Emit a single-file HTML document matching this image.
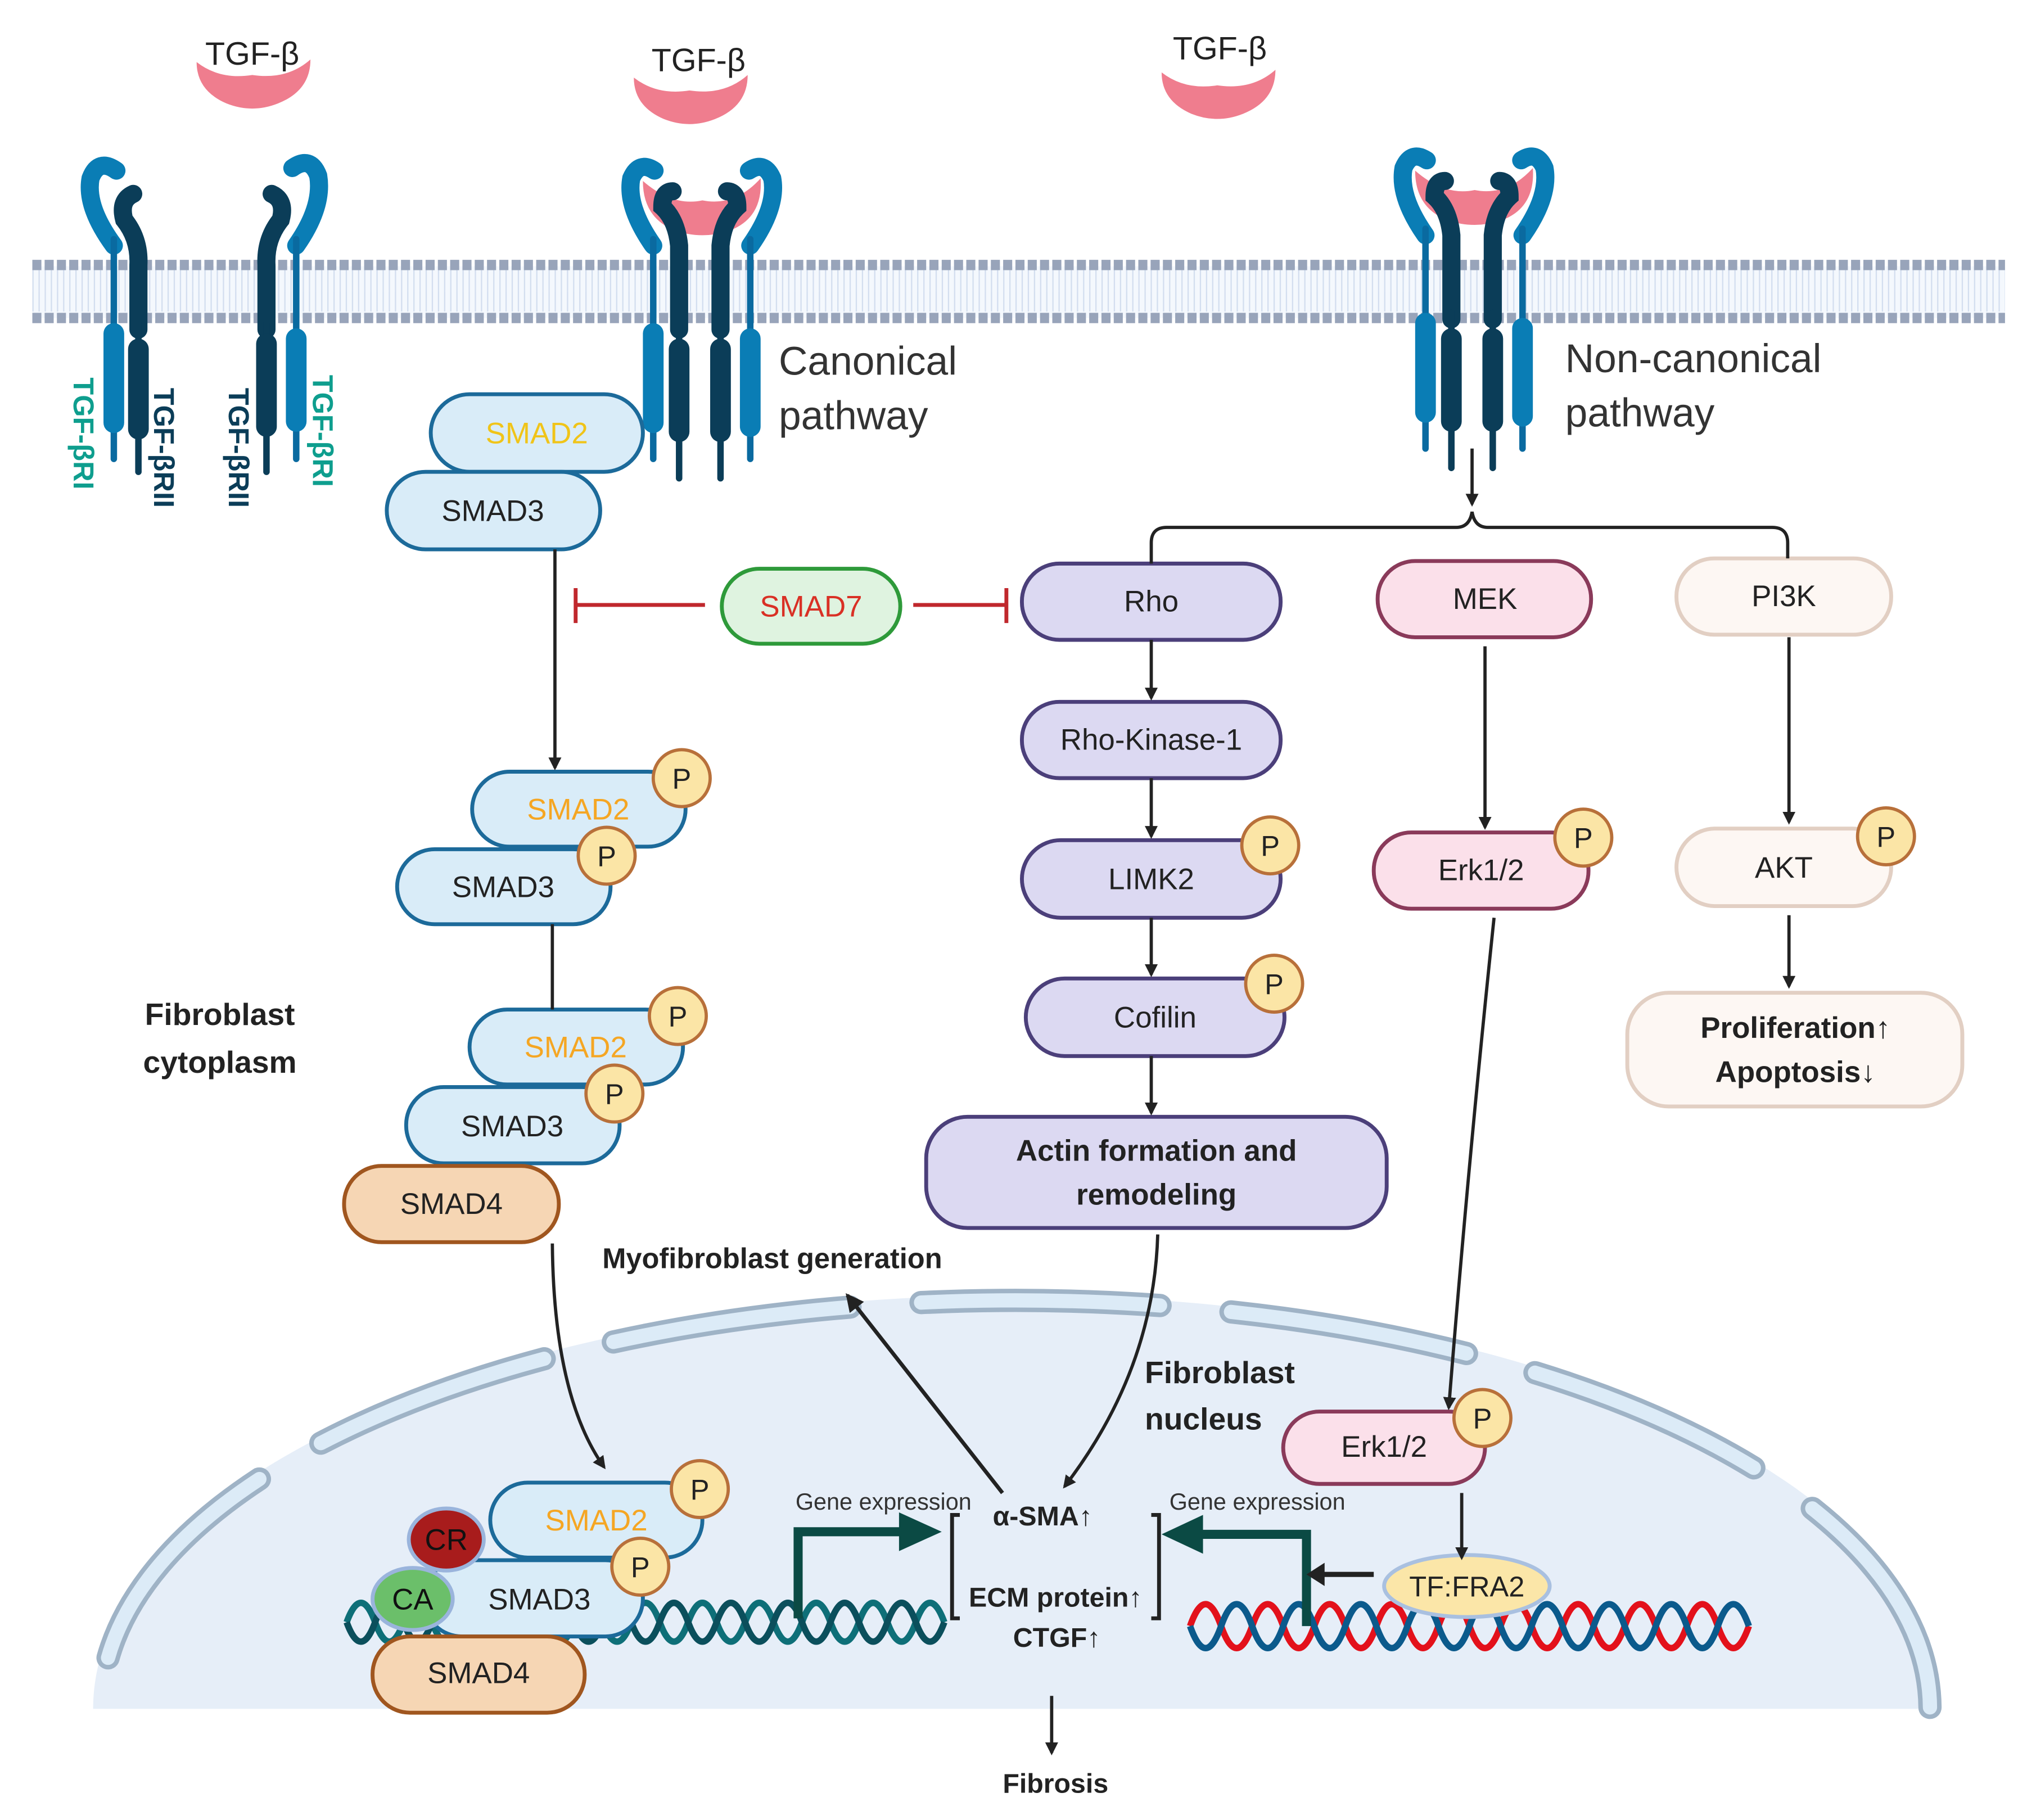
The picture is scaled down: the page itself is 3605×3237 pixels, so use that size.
<!DOCTYPE html>
<html><head><meta charset="utf-8"><style>
html,body{margin:0;padding:0;background:#fff;}
svg{display:block;}
text{font-family:"Liberation Sans",sans-serif;}
</style></head><body>
<svg width="3605" height="3237" viewBox="0 0 1567 1408" preserveAspectRatio="none" xmlns="http://www.w3.org/2000/svg">
<defs>
<marker id="ar" markerWidth="10" markerHeight="10" refX="8" refY="5" orient="auto" markerUnits="userSpaceOnUse"><path d="M0,0 L10,5 L0,10 z" fill="#222"/></marker>
<marker id="ar2" markerWidth="14" markerHeight="14" refX="12" refY="7" orient="auto" markerUnits="userSpaceOnUse"><path d="M0,0 L14,7 L0,14 z" fill="#222"/></marker>
</defs>

<g>
<rect x="25" y="206" width="1525" height="40" fill="#f4f8fd"/>
<path d="M25 217 L1550 217" stroke-dasharray="1 3.75" stroke-width="16" stroke="#d3deef"/>
<path d="M25 233 L1550 233" stroke-dasharray="1 3.75" stroke-width="16" stroke="#d3deef"/>
<line x1="25" y1="205" x2="1550" y2="205" stroke="#98a4ba" stroke-width="8" stroke-dasharray="7 2.5"/>
<line x1="25" y1="246" x2="1550" y2="246" stroke="#98a4ba" stroke-width="8" stroke-dasharray="7 2.5"/>
</g>

<path d="M72 1322 A713 320 0 0 1 1498 1322 Z" fill="#e6eef8"/>
<path d="M78 1322 A707 316 0 0 1 1492 1322" fill="none" stroke="#9fb3c6" stroke-width="18" stroke-dasharray="185 55" stroke-dashoffset="-40" stroke-linecap="round"/>
<path d="M78 1322 A707 316 0 0 1 1492 1322" fill="none" stroke="#dcebf7" stroke-width="11" stroke-dasharray="185 55" stroke-dashoffset="-40" stroke-linecap="round"/>

<g fill="#ef7d8e">
<path d="M152 48 Q170 62 195 58 Q222 62 240 46 Q240 70 215 80 Q195 88 175 80 Q152 70 152 48 Z"/>
<path d="M490 60 Q508 74 533 70 Q560 74 578 58 Q578 82 553 92 Q533 100 513 92 Q490 82 490 60 Z"/>
<path d="M898 56 Q916 70 941 66 Q968 70 986 54 Q986 78 961 88 Q941 96 921 88 Q898 78 898 56 Z"/>
</g>
<text x="195" y="50" font-size="25" text-anchor="middle" fill="#222">TGF-β</text>
<text x="540" y="55" font-size="25" text-anchor="middle" fill="#222">TGF-β</text>
<text x="943" y="46" font-size="25" text-anchor="middle" fill="#222">TGF-β</text>

<g stroke-linecap="round" fill="none">
<path d="M88 190 Q66 160 70 138 Q76 122 90 132" stroke="#0a7db5" stroke-width="14"/>
<line x1="88" y1="185" x2="88" y2="355" stroke="#0a6aa0" stroke-width="5"/>
<path d="M107 255 L107 205 Q108 185 96 170 Q92 155 103 150" stroke="#0b3d58" stroke-width="14"/>
<line x1="107" y1="250" x2="107" y2="365" stroke="#0b3d58" stroke-width="5"/>
<path d="M206 255 L206 205 Q205 185 217 170 Q221 155 210 150" stroke="#0b3d58" stroke-width="14"/>
<line x1="206" y1="250" x2="206" y2="365" stroke="#0b3d58" stroke-width="5"/>
<path d="M229 190 Q250 160 246 136 Q240 120 226 130" stroke="#0a7db5" stroke-width="14"/>
<line x1="229" y1="185" x2="229" y2="355" stroke="#0a6aa0" stroke-width="5"/>
</g>
<rect x="80" y="250" width="16" height="85" rx="8" fill="#0a7db5"/>
<rect x="99" y="262" width="16" height="78" rx="8" fill="#0b3d58"/>
<rect x="198" y="258" width="16" height="80" rx="8" fill="#0b3d58"/>
<rect x="221" y="254" width="16" height="80" rx="8" fill="#0a7db5"/>
<text transform="translate(57,292) rotate(90)" font-size="22" font-weight="bold" fill="#0e9e8e">TGF-βRI</text>
<text transform="translate(119,300) rotate(90)" font-size="22" font-weight="bold" fill="#0b3d58">TGF-βRII</text>
<text transform="translate(177,300) rotate(90)" font-size="22" font-weight="bold" fill="#0b3d58">TGF-βRII</text>
<text transform="translate(242,290) rotate(90)" font-size="22" font-weight="bold" fill="#0e9e8e">TGF-βRI</text>

<g id="cx1">
<g stroke-linecap="round" fill="none">
<path d="M505 190 Q484 160 488 138 Q494 124 506 132" stroke="#0a7db5" stroke-width="14"/>
<path d="M580 190 Q601 160 597 138 Q591 124 579 132" stroke="#0a7db5" stroke-width="14"/>
</g>
<path d="M497 140 Q520 160 543 155 Q568 160 588 138 Q590 168 565 178 Q543 186 521 178 Q497 168 497 140 Z" fill="#ef7d8e"/>
<g stroke-linecap="round" fill="none">
<path d="M525 255 L525 190 Q523 170 512 160 Q512 148 520 148" stroke="#0b3d58" stroke-width="14"/>
<path d="M557 255 L557 190 Q559 170 570 160 Q570 148 562 148" stroke="#0b3d58" stroke-width="14"/>
<line x1="505" y1="185" x2="505" y2="355" stroke="#0a6aa0" stroke-width="5"/>
<line x1="580" y1="185" x2="580" y2="355" stroke="#0a6aa0" stroke-width="5"/>
<line x1="525" y1="250" x2="525" y2="370" stroke="#0b3d58" stroke-width="5"/>
<line x1="557" y1="250" x2="557" y2="370" stroke="#0b3d58" stroke-width="5"/>
</g>
<rect x="497" y="250" width="16" height="85" rx="8" fill="#0a7db5"/>
<rect x="517" y="262" width="16" height="80" rx="8" fill="#0b3d58"/>
<rect x="549" y="262" width="16" height="80" rx="8" fill="#0b3d58"/>
<rect x="572" y="254" width="16" height="84" rx="8" fill="#0a7db5"/>
</g>
<use href="#cx1" transform="translate(597,-8)"/>

<text x="602" y="290" font-size="31" fill="#333">Canonical</text>
<text x="602" y="332" font-size="31" fill="#333">pathway</text>
<text x="1210" y="288" font-size="31" fill="#333">Non-canonical</text>
<text x="1210" y="330" font-size="31" fill="#333">pathway</text>

<g font-size="23" text-anchor="middle">
<rect x="333" y="305" width="164" height="60" rx="30" fill="#d9ecf8" stroke="#1c6a9a" stroke-width="3"/>
<text x="415" y="343" fill="#f0c419">SMAD2</text>
<rect x="299" y="365" width="165" height="60" rx="30" fill="#d9ecf8" stroke="#1c6a9a" stroke-width="3"/>
<text x="381" y="403" fill="#222">SMAD3</text>

<rect x="558" y="440" width="138" height="58" rx="29" fill="#dff3e0" stroke="#2e9a3a" stroke-width="3"/>
<text x="627" y="477" fill="#d93025">SMAD7</text>

<rect x="790" y="436" width="200" height="59" rx="29" fill="#dcd9f2" stroke="#4b3f7a" stroke-width="3"/>
<text x="890" y="473" fill="#222">Rho</text>
<rect x="790" y="543" width="200" height="59" rx="29" fill="#dcd9f2" stroke="#4b3f7a" stroke-width="3"/>
<text x="890" y="580" fill="#222">Rho-Kinase-1</text>
<rect x="790" y="650" width="200" height="60" rx="30" fill="#dcd9f2" stroke="#4b3f7a" stroke-width="3"/>
<text x="890" y="688" fill="#222">LIMK2</text>
<rect x="793" y="757" width="200" height="60" rx="30" fill="#dcd9f2" stroke="#4b3f7a" stroke-width="3"/>
<text x="893" y="795" fill="#222">Cofilin</text>
<rect x="716" y="864" width="356" height="86" rx="32" fill="#dcd9f2" stroke="#4b3f7a" stroke-width="3"/>
<text x="894" y="898" font-weight="bold" fill="#222">Actin formation and</text>
<text x="894" y="932" font-weight="bold" fill="#222">remodeling</text>

<rect x="1065" y="434" width="165" height="59" rx="29" fill="#fbe0ea" stroke="#8a3a5a" stroke-width="3"/>
<text x="1148" y="471" fill="#222">MEK</text>
<rect x="1062" y="644" width="166" height="59" rx="29" fill="#fbe0ea" stroke="#8a3a5a" stroke-width="3"/>
<text x="1145" y="681" fill="#222">Erk1/2</text>

<rect x="1296" y="432" width="166" height="59" rx="29" fill="#fdf7f3" stroke="#e2cfc3" stroke-width="3"/>
<text x="1379" y="469" fill="#222">PI3K</text>
<rect x="1296" y="641" width="166" height="60" rx="30" fill="#fdf7f3" stroke="#e2cfc3" stroke-width="3"/>
<text x="1379" y="679" fill="#222">AKT</text>
<rect x="1258" y="768" width="259" height="88" rx="32" fill="#fdf7f3" stroke="#e2cfc3" stroke-width="3"/>
<text x="1388" y="803" font-weight="bold" fill="#222">Proliferation↑</text>
<text x="1388" y="837" font-weight="bold" fill="#222">Apoptosis↓</text>

<rect x="365" y="597" width="165" height="58" rx="29" fill="#d9ecf8" stroke="#1c6a9a" stroke-width="3"/>
<text x="447" y="634" fill="#f5a623">SMAD2</text>
<rect x="307" y="657" width="165" height="58" rx="29" fill="#d9ecf8" stroke="#1c6a9a" stroke-width="3"/>
<text x="389" y="694" fill="#222">SMAD3</text>
<rect x="363" y="781" width="165" height="58" rx="29" fill="#d9ecf8" stroke="#1c6a9a" stroke-width="3"/>
<text x="445" y="818" fill="#f5a623">SMAD2</text>
<rect x="314" y="841" width="165" height="59" rx="29" fill="#d9ecf8" stroke="#1c6a9a" stroke-width="3"/>
<text x="396" y="879" fill="#222">SMAD3</text>
<rect x="266" y="902" width="166" height="59" rx="29" fill="#f6d6b4" stroke="#a0561f" stroke-width="3"/>
<text x="349" y="939" fill="#222">SMAD4</text>

<rect x="992" y="1092" width="156" height="56" rx="28" fill="#fbe0ea" stroke="#8a3a5a" stroke-width="3"/>
<text x="1070" y="1127" fill="#222">Erk1/2</text>
</g>

<g fill="none" stroke-width="5">
<path d="M268 1255 q11 -30 22 0 t22 0 t22 0 t22 0 t22 0 t22 0 t22 0 t22 0 t22 0 t22 0 t22 0 t22 0 t22 0 t22 0 t22 0 t22 0 t22 0 t22 0 t22 0 t22 0 t22 0" stroke="#0e6f78"/>
<path d="M268 1255 q11 30 22 0 t22 0 t22 0 t22 0 t22 0 t22 0 t22 0 t22 0 t22 0 t22 0 t22 0 t22 0 t22 0 t22 0 t22 0 t22 0 t22 0 t22 0 t22 0 t22 0 t22 0" stroke="#0b4f5c"/>
</g>
<g fill="none" stroke-width="5">
<path d="M920 1258 q12 -34 24 0 t24 0 t24 0 t24 0 t24 0 t24 0 t24 0 t24 0 t24 0 t24 0 t24 0 t24 0 t24 0 t24 0 t24 0 t24 0 t24 0 t24 0" stroke="#e3111b"/>
<path d="M920 1258 q12 34 24 0 t24 0 t24 0 t24 0 t24 0 t24 0 t24 0 t24 0 t24 0 t24 0 t24 0 t24 0 t24 0 t24 0 t24 0 t24 0 t24 0 t24 0" stroke="#0b5a8c"/>
</g>

<g font-size="23" text-anchor="middle">
<rect x="379" y="1147" width="164" height="58" rx="29" fill="#d9ecf8" stroke="#1c6a9a" stroke-width="3"/>
<text x="461" y="1184" fill="#f5a623">SMAD2</text>
<rect x="328" y="1207" width="169" height="59" rx="29" fill="#d9ecf8" stroke="#1c6a9a" stroke-width="3"/>
<text x="417" y="1245" fill="#222">SMAD3</text>
<rect x="288" y="1266" width="164" height="59" rx="29" fill="#f6d6b4" stroke="#a0561f" stroke-width="3"/>
<text x="370" y="1302" fill="#222">SMAD4</text>
<ellipse cx="345" cy="1191" rx="29" ry="24" fill="#a81c1c" stroke="#9ab4dc" stroke-width="3"/>
<text x="345" y="1199" fill="#111">CR</text>
<ellipse cx="319" cy="1237" rx="31" ry="24" fill="#6bbf6a" stroke="#9ab4dc" stroke-width="3"/>
<text x="319" y="1245" fill="#111">CA</text>
</g>

<g font-size="22" text-anchor="middle">
<g fill="#fbe5a6" stroke="#b8703a" stroke-width="2.5">
<circle cx="527" cy="602" r="22"/><circle cx="469" cy="662" r="22"/>
<circle cx="524" cy="786" r="22"/><circle cx="475" cy="846" r="22"/>
<circle cx="541" cy="1152" r="22"/><circle cx="495" cy="1212" r="22"/>
<circle cx="982" cy="654" r="22"/><circle cx="985" cy="761" r="22"/>
<circle cx="1224" cy="648" r="22"/><circle cx="1458" cy="647" r="22"/>
<circle cx="1146" cy="1097" r="22"/>
</g>
<g fill="#222">
<text x="527" y="610">P</text><text x="469" y="670">P</text>
<text x="524" y="794">P</text><text x="475" y="854">P</text>
<text x="541" y="1160">P</text><text x="495" y="1220">P</text>
<text x="982" y="662">P</text><text x="985" y="769">P</text>
<text x="1224" y="656">P</text><text x="1458" y="655">P</text>
<text x="1146" y="1105">P</text>
</g>
</g>

<ellipse cx="1134" cy="1227" rx="64" ry="24" fill="#fbe6a8" stroke="#a9c0e0" stroke-width="3"/>
<text x="1134" y="1235" font-size="22" text-anchor="middle" fill="#222">TF:FRA2</text>

<path d="M617 1252 L617 1185 L700 1185" fill="none" stroke="#0b4a44" stroke-width="7"/>
<path d="M695 1170 L728 1185 L695 1200 Z" fill="#0b4a44"/>
<path d="M1010 1258 L1010 1187 L925 1187" fill="none" stroke="#0b4a44" stroke-width="7"/>
<path d="M930 1172 L898 1187 L930 1202 Z" fill="#0b4a44"/>
<path d="M1062 1218 L1020 1218" stroke="#222" stroke-width="4"/>
<path d="M1024 1209 L1010 1218 L1024 1227 Z" fill="#222"/>
<path d="M742 1172 L736 1172 L736 1252 L742 1252" fill="none" stroke="#222" stroke-width="3"/>
<path d="M890 1172 L896 1172 L896 1252 L890 1252" fill="none" stroke="#222" stroke-width="3"/>
<text x="683" y="1168" font-size="18" text-anchor="middle" fill="#333">Gene expression</text>
<text x="972" y="1168" font-size="18" text-anchor="middle" fill="#333">Gene expression</text>
<g font-size="21" font-weight="bold" text-anchor="middle" fill="#222">
<text x="806" y="1180">α-SMA↑</text>
<text x="816" y="1243">ECM protein↑</text>
<text x="817" y="1274">CTGF↑</text>
<text x="816" y="1387">Fibrosis</text>
<text x="597" y="981" font-size="22">Myofibroblast generation</text>
</g>
<g font-size="24" font-weight="bold" fill="#222">
<text x="170" y="793" text-anchor="middle">Fibroblast</text>
<text x="170" y="830" text-anchor="middle">cytoplasm</text>
<text x="885" y="1070">Fibroblast</text>
<text x="885" y="1106">nucleus</text>
</g>

<g stroke="#222" stroke-width="2.5" fill="none">
<line x1="429" y1="425" x2="429" y2="594" marker-end="url(#ar)"/>
<line x1="427" y1="715" x2="427" y2="781"/>
<path d="M427 962 Q428 1080 467 1135" marker-end="url(#ar)"/>
<line x1="890" y1="495" x2="890" y2="540" marker-end="url(#ar)"/>
<line x1="890" y1="602" x2="890" y2="647" marker-end="url(#ar)"/>
<line x1="890" y1="710" x2="890" y2="754" marker-end="url(#ar)"/>
<line x1="890" y1="817" x2="890" y2="861" marker-end="url(#ar)"/>
<line x1="1148" y1="500" x2="1148" y2="640" marker-end="url(#ar)"/>
<line x1="1383" y1="493" x2="1383" y2="636" marker-end="url(#ar)"/>
<line x1="1383" y1="708" x2="1383" y2="763" marker-end="url(#ar)"/>
<line x1="1138" y1="347" x2="1138" y2="390" marker-end="url(#ar)"/>
<path d="M890 436 L890 420 Q890 408 902 408 L1126 408 Q1136 408 1138 396 Q1140 408 1150 408 L1370 408 Q1382 408 1382 420 L1382 432"/>
<path d="M1155 710 Q1135 900 1120 1089" marker-end="url(#ar)"/>
<path d="M895 955 Q892 1060 823 1150" marker-end="url(#ar)"/>
<line x1="1130" y1="1155" x2="1130" y2="1205" marker-end="url(#ar)"/>
<line x1="813" y1="1312" x2="813" y2="1356" marker-end="url(#ar)"/>
<line x1="775" y1="1155" x2="655" y2="1002" stroke-width="3" marker-end="url(#ar2)"/>
</g>
<g stroke="#c0282d" stroke-width="3">
<line x1="545" y1="468" x2="445" y2="468"/><line x1="445" y1="455" x2="445" y2="482"/>
<line x1="706" y1="468" x2="778" y2="468"/><line x1="778" y1="455" x2="778" y2="482"/>
</g>
</svg>
</body></html>
